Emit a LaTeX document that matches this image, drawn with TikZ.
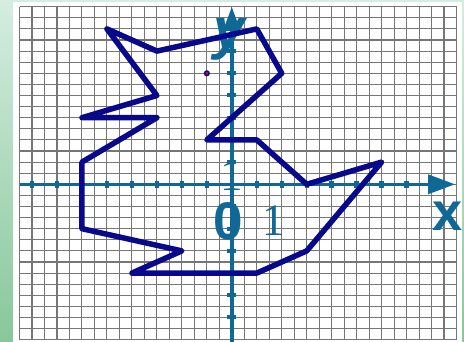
\documentclass[tikz,border=0pt]{standalone}
\usepackage{fontspec}
\setmainfont{Liberation Sans}
\newfontfamily\serifnum{Liberation Serif}
\usetikzlibrary{arrows.meta}
\definecolor{axisc}{RGB}{16,104,150}
\definecolor{polyc}{RGB}{8,8,140}
\definecolor{gridc}{RGB}{118,118,118}
\definecolor{mintT}{RGB}{212,237,224}
\definecolor{mintB}{RGB}{136,199,154}
\begin{document}
\begin{tikzpicture}[x=1pt,y=-1pt,
  gridline/.style={draw=gridc,line width=1.1pt},
  axisline/.style={draw=axisc,line width=3.4pt},
  xtick/.style={fill=axisc},
  polyline/.style={draw=polyc,line width=5.5pt,line join=round,line cap=round},
  lbl/.style={text=axisc,inner sep=0pt,outer sep=0pt}]
\useasboundingbox (0,0) rectangle (464,342);
\shade[top color=mintT,bottom color=mintB] (0,0) rectangle (464,342);
\fill[white] (13,2.5) rectangle (461.5,342);
% grid
\foreach \i in {0,...,35}
  \draw[gridline] ({19.5+12.486*\i},6.7) -- ({19.5+12.486*\i},339.7);
\foreach \j in {0,...,30}
  \draw[gridline] (19.5,{6.7+11.1*\j}) -- (456.5,{6.7+11.1*\j});
\begin{scope}[shift={(231.8pt,-184.3pt)},x=24.97pt,y=22.2pt]
  % axes
  \coordinate (xs) at (-8.5,0);
  \coordinate (xe) at (8.94,0);
  \coordinate (ys) at (0,-7.1);
  \coordinate (ye) at (0,7.99);
  \draw[axisline,-{Triangle[length=27pt,width=19pt]}] (xs) -- (xe);
  \draw[axisline,-{Triangle[length=24pt,width=17pt]}] (ys) -- (ye);
  \foreach \k in {-8,...,-1,1,2,...,7}
    \fill[xtick] (\k,0) ++(-2.2pt,-3.6pt) rectangle ++(4.4pt,7.2pt);
  \foreach \k in {-6,...,-1,1,2,...,6}
    \fill[xtick] (0,\k) ++(-4.5pt,-2pt) rectangle ++(9pt,4pt);
\end{scope}
% labels
\node[lbl] (ylab) at (229.5,39) {\fontsize{57}{57}\selectfont\bfseries\itshape y};
\node[lbl] (xlab) at (448,216) {\fontsize{54}{54}\selectfont\bfseries x};
\node[lbl] (zero) at (228.3,221.5) {\fontsize{53}{53}\selectfont\bfseries 0};
\node[lbl] (onex) at (273.5,221) {\fontsize{45}{45}\selectfont\serifnum 1};
\node[lbl] (oney) at (231.5,176) {\fontsize{45}{45}\selectfont\serifnum 1};
% figure
\begin{scope}[shift={(231.8pt,-184.3pt)},x=24.97pt,y=22.2pt]
  \coordinate (p1) at (-5,7);
  \coordinate (p2) at (-3,6);
  \coordinate (p3) at (1,7);
  \coordinate (p4) at (2,5);
  \coordinate (p5) at (-1,2);
  \coordinate (p6) at (1,2);
  \coordinate (p7) at (3,0);
  \coordinate (p8) at (6,1);
  \coordinate (p9) at (3,-3);
  \coordinate (p10) at (1,-4);
  \coordinate (p11) at (-4,-4);
  \coordinate (p12) at (-2,-3);
  \coordinate (p13) at (-6,-2);
  \coordinate (p14) at (-6,1);
  \coordinate (p15) at (-3,3);
  \coordinate (p16) at (-6,3);
  \coordinate (p17) at (-3,4);
  \coordinate (eye) at (-1,5);
  \draw[polyline] (p1) -- (p2) -- (p3) -- (p4) -- (p5) -- (p6) -- (p7) -- (p8)
    -- (p9) -- (p10) -- (p11) -- (p12) -- (p13) -- (p14) -- (p15) -- (p16)
    -- (p17) -- cycle;
  \filldraw[fill=red,draw=polyc,line width=1.6pt] (eye) circle (2.2pt);
\end{scope}
\end{tikzpicture}
\end{document}
